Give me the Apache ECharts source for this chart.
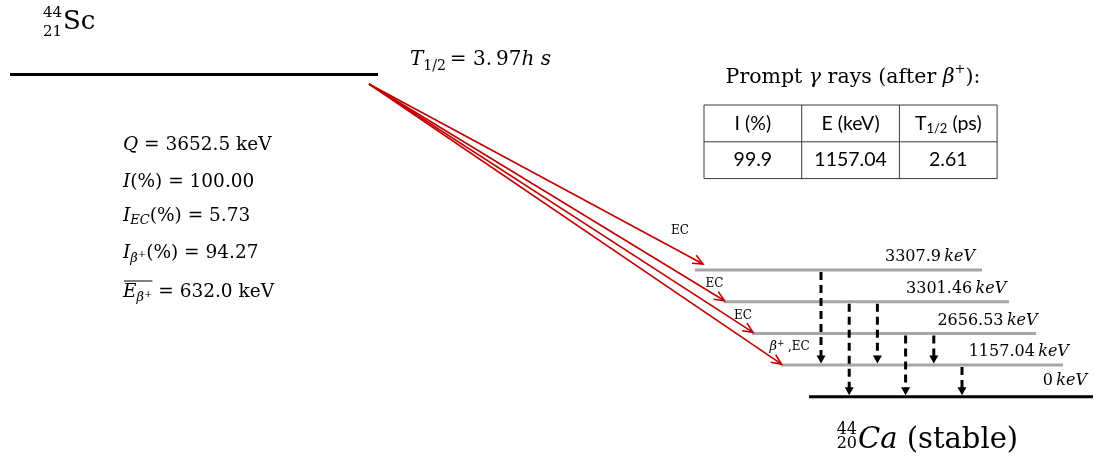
<!DOCTYPE html>
<html>
<head>
<meta charset="utf-8">
<script src="https://cdn.jsdelivr.net/npm/echarts@6/dist/echarts.min.js"></script>
<style>
  html, body { margin: 0; padding: 0; background: #ffffff; }
  #chart { width: 1096px; height: 462px; }
</style>
</head>
<body>
<div id="chart"></div>
<script>
// ---- Decay data: 44Sc -> 44Ca ----
const parentMass = '44';
const parentZ = '21';
const parentSymbol = 'Sc';
const daughterMass = '44';
const daughterZ = '20';
const daughterSymbol = 'Ca';
const daughterNote = '(stable)';
const halfLife = ['3.', '97'];
const qValue = '3652.5';
const totalIntensity = '100.00';
const ecIntensity = '5.73';
const betaIntensity = '94.27';
const betaMeanEnergy = '632.0';

// daughter levels in keV, highest first
const levelEnergies = ['3307.9', '3301.46', '2656.53', '1157.04', '0'];

// feeding branches from the parent ground state
const feedLevels = ['3307.9', '3301.46', '2656.53', '1157.04'];
const feedModes = ['EC', 'EC', 'EC', 'β+ ,EC'];

// gamma transitions between levels
const gammaFrom = ['3307.9', '3301.46', '3301.46', '2656.53', '2656.53', '1157.04'];
const gammaTo   = ['1157.04', '0', '1157.04', '0', '1157.04', '0'];

// prompt gamma table
const tableHeaders = ['I (%)', 'E (keV)', 'T_{1/2} (ps)'];
const tableValues = ['99.9', '1157.04', '2.61'];

// ---- layout (diagram units: axes span the whole canvas) ----
const W = 1096, H = 462;
const SERIF = 'DejaVu Serif';
const SANS = 'Lato';
const RED = '#c00000';
const GREY = '#a6a6a6';
const INK = '#000000';
const BODY = 18.5;

const parentY = 74.5, parentX0 = 10, parentX1 = 378;
const feedStart = [369, 84];
const levelY = i => 270 + i * 31.7;
const levelX0 = i => 695 + i * 28.5;
const levelX1 = i => (levelEnergies[i] === '0' ? 1093 : 982 + i * 27);
const levelIndex = e => levelEnergies.indexOf(e);
const gammaX = k => 821 + k * 28.2;

// ---- text helpers ----
const measureCtx = document.createElement('canvas').getContext('2d');
function fontOf(p) {
  return (p.italic ? 'italic ' : '') + p.size + 'px "' + (p.family || SERIF) + '"';
}
function runLine(x, y, parts, align) {
  const items = parts.map(p => Object.assign({ size: BODY }, p));
  let total = 0;
  items.forEach(p => {
    measureCtx.font = fontOf(p);
    p.w = measureCtx.measureText(p.t).width;
    total += p.w + (p.gap || 0);
  });
  let cx = align === 'center' ? x - total / 2 : align === 'right' ? x - total : x;
  const x0 = cx;
  const ends = [];
  const els = items.map(p => {
    const el = {
      type: 'text', silent: true,
      x: cx, y: y + (p.dy || 0),
      style: {
        text: p.t,
        fontFamily: p.family || SERIF,
        fontSize: p.size,
        fontStyle: p.italic ? 'italic' : 'normal',
        fill: INK,
        textAlign: 'left', align: 'left',
        textVerticalAlign: 'middle', verticalAlign: 'middle'
      }
    };
    cx += p.w + (p.gap || 0);
    ends.push(cx);
    return el;
  });
  return { els, x0, x1: cx, ends };
}
// "T_{1/2} (ps)" -> runs with a subscript
function parseSub(str, size, family) {
  const out = [];
  const re = /_\{([^}]*)\}/g;
  let last = 0, m;
  while ((m = re.exec(str))) {
    if (m.index > last) out.push({ t: str.slice(last, m.index), size, family });
    out.push({ t: m[1], size: Math.round(size * 0.68), family, dy: 5 });
    last = re.lastIndex;
  }
  if (last < str.length) out.push({ t: str.slice(last), size, family });
  return out;
}

// ---- annotation text ----
const graphics = [];
function add(r) { r.els.forEach(e => graphics.push(e)); return r; }

// parent nuclide
add(runLine(62, 13, [{ t: parentMass, size: 15 }], 'right'));
add(runLine(62, 32, [{ t: parentZ, size: 15 }], 'right'));
add(runLine(63, 22, [{ t: parentSymbol, size: 26 }]));

// half-life
add(runLine(410, 60, [
  { t: 'T', italic: true, size: 20 },
  { t: '1/2', size: 14, dy: 6, gap: 4 },
  { t: '= ' + halfLife[0], size: 20, gap: 4 },
  { t: halfLife[1], size: 20 },
  { t: 'h s', italic: true, size: 20 }
]));

// decay summary
add(runLine(123, 145, [{ t: 'Q', italic: true }, { t: ' = ' + qValue + ' keV' }]));
add(runLine(123, 182, [{ t: 'I', italic: true }, { t: '(%) = ' + totalIntensity }]));
add(runLine(123, 216, [
  { t: 'I', italic: true },
  { t: 'EC', italic: true, size: 13, dy: 5 },
  { t: '(%) = ' + ecIntensity }
]));
add(runLine(123, 253, [
  { t: 'I', italic: true },
  { t: 'β', italic: true, size: 13, dy: 6 },
  { t: '+', size: 10, dy: 1 },
  { t: '(%) = ' + betaIntensity }
]));
const eb = add(runLine(123, 292, [
  { t: 'E', italic: true },
  { t: 'β', italic: true, size: 13, dy: 6 },
  { t: '+', size: 10, dy: 2 },
  { t: ' = ' + betaMeanEnergy + ' keV' }
]));
graphics.push({
  type: 'line', silent: true,
  shape: { x1: eb.x0 + 1, y1: 281, x2: eb.ends[2], y2: 281 },
  style: { stroke: INK, lineWidth: 1 }
});

// prompt gamma table
add(runLine(853, 78, [
  { t: 'Prompt ', size: 20.5 },
  { t: 'γ', italic: true, size: 20.5 },
  { t: ' rays (after ', size: 20.5 },
  { t: 'β', italic: true, size: 20.5 },
  { t: '+', size: 13, dy: -8 },
  { t: '):', size: 20.5 }
], 'center'));

const tblLeft = 704, tblTop = 105, colW = 97.7, rowH = 36.8;
const nCols = tableHeaders.length;
graphics.push({
  type: 'rect', silent: true,
  shape: { x: tblLeft, y: tblTop, width: colW * nCols, height: rowH * 2 },
  style: { fill: 'none', stroke: '#3a3a3a', lineWidth: 1 }
});
graphics.push({
  type: 'line', silent: true,
  shape: { x1: tblLeft, y1: tblTop + rowH, x2: tblLeft + colW * nCols, y2: tblTop + rowH },
  style: { stroke: '#3a3a3a', lineWidth: 1 }
});
for (let c = 1; c < nCols; c++) {
  graphics.push({
    type: 'line', silent: true,
    shape: { x1: tblLeft + colW * c, y1: tblTop, x2: tblLeft + colW * c, y2: tblTop + rowH * 2 },
    style: { stroke: '#3a3a3a', lineWidth: 1 }
  });
}
tableHeaders.forEach((h, c) => {
  add(runLine(tblLeft + colW * (c + 0.5), tblTop + rowH * 0.5, parseSub(h, 19.5, SANS), 'center'));
});
tableValues.forEach((v, c) => {
  add(runLine(tblLeft + colW * (c + 0.5), tblTop + rowH * 1.5, [{ t: v, size: 19.5, family: SANS }], 'center'));
});

// daughter nuclide
add(runLine(857, 430, [{ t: daughterMass, size: 16 }], 'right'));
add(runLine(857, 444, [{ t: daughterZ, size: 16 }], 'right'));
add(runLine(858, 440, [
  { t: daughterSymbol, italic: true, size: 29 },
  { t: ' ' + daughterNote, size: 29 }
]));

// ---- series renderers ----
function renderParent(params, api) {
  const a = api.coord([parentX0, parentY]);
  const b = api.coord([parentX1, parentY]);
  return {
    type: 'line',
    shape: { x1: a[0], y1: a[1], x2: b[0], y2: b[1] },
    style: { stroke: '#000', lineWidth: 3 }
  };
}

function renderLevel(params, api) {
  const i = params.dataIndex;
  const e = levelEnergies[i];
  const ground = e === '0';
  const a = api.coord([levelX0(i), levelY(i)]);
  const b = api.coord([levelX1(i), levelY(i)]);
  const labelRight = ground ? b[0] - 6 : b[0] - 7 + i * 4.3;
  return {
    type: 'group',
    children: [
      {
        type: 'line',
        shape: { x1: a[0], y1: a[1], x2: b[0], y2: b[1] },
        style: { stroke: ground ? '#000' : GREY, lineWidth: 3 }
      },
      {
        type: 'text',
        x: labelRight, y: a[1] - (ground ? 16 : 13),
        style: {
          text: '{n|' + e + '} {u|keV}',
          textAlign: 'right', align: 'right',
          textVerticalAlign: 'middle', verticalAlign: 'middle',
          fill: INK,
          rich: {
            n: { fontFamily: SERIF, fontSize: 16, fill: INK },
            u: { fontFamily: SERIF, fontSize: 16, fontStyle: 'italic', fill: INK }
          }
        }
      }
    ]
  };
}

function renderFeed(params, api) {
  const k = params.dataIndex;
  const li = levelIndex(feedLevels[k]);
  const s = api.coord(feedStart);
  const lift = k === 0 ? 6 : 1;
  const shift = k === 0 ? 8 : 1;
  const t = api.coord([levelX0(li) + shift, levelY(li) - lift]);
  const ang = Math.atan2(t[1] - s[1], t[0] - s[0]);
  const len = 11, half = 0.42;
  const p1 = [t[0] - len * Math.cos(ang - half), t[1] - len * Math.sin(ang - half)];
  const p2 = [t[0] - len * Math.cos(ang + half), t[1] - len * Math.sin(ang + half)];
  const mode = feedModes[k];
  const isBeta = mode.indexOf('β') === 0;
  const lx = t[0] - (k === 0 ? 32 : isBeta ? 12 : 19);
  const ly = t[1] - (k === 0 ? 33 : 17);
  return {
    type: 'group',
    children: [
      {
        type: 'line',
        shape: { x1: s[0], y1: s[1], x2: t[0], y2: t[1] },
        style: { stroke: RED, lineWidth: 1.6 }
      },
      {
        type: 'polyline',
        shape: { points: [p1, t, p2] },
        style: { stroke: RED, lineWidth: 1.6, fill: null }
      },
      {
        type: 'text',
        x: lx, y: ly,
        style: {
          text: isBeta ? '{b|β}{p|+} {e|,EC}' : '{e|' + mode + '}',
          textAlign: 'left', align: 'left',
          textVerticalAlign: 'middle', verticalAlign: 'middle',
          fill: INK,
          rich: {
            b: { fontFamily: SERIF, fontSize: 13, fontStyle: 'italic', fill: INK },
            p: { fontFamily: SERIF, fontSize: 9, fill: INK, padding: [0, 0, 7, 0] },
            e: { fontFamily: SERIF, fontSize: 12, fill: INK }
          }
        }
      }
    ]
  };
}

function renderGamma(params, api) {
  const k = params.dataIndex;
  const fi = levelIndex(gammaFrom[k]);
  const ti = levelIndex(gammaTo[k]);
  const x = gammaX(k);
  const top = api.coord([x, levelY(fi)]);
  const tip = api.coord([x, levelY(ti) - 1.5]);
  const headH = 8, headW = 4.5;
  return {
    type: 'group',
    children: [
      {
        type: 'line',
        shape: { x1: top[0], y1: top[1] + 2, x2: tip[0], y2: tip[1] - headH + 1 },
        style: { stroke: '#000', lineWidth: 3, lineDash: [8, 5] }
      },
      {
        type: 'polygon',
        shape: { points: [[tip[0] - headW, tip[1] - headH], [tip[0] + headW, tip[1] - headH], [tip[0], tip[1]]] },
        style: { fill: '#000' }
      }
    ]
  };
}

const chart = echarts.init(document.getElementById('chart'), null, { renderer: 'canvas' });
chart.setOption({
  animation: false,
  backgroundColor: '#ffffff',
  grid: { left: 0, right: 0, top: 0, bottom: 0 },
  xAxis: { type: 'value', min: 0, max: W, show: false },
  yAxis: { type: 'value', min: 0, max: H, inverse: true, show: false },
  series: [
    { type: 'custom', name: 'parent', clip: false, renderItem: renderParent, data: [[0, 0]] },
    { type: 'custom', name: 'levels', clip: false, renderItem: renderLevel, data: levelEnergies.map((e, i) => [i, 0]) },
    { type: 'custom', name: 'feeding', clip: false, renderItem: renderFeed, data: feedLevels.map((e, i) => [i, 0]), z: 3 },
    { type: 'custom', name: 'gamma', clip: false, renderItem: renderGamma, data: gammaFrom.map((e, i) => [i, 0]) }
  ],
  graphic: graphics
});
</script>
</body>
</html>
